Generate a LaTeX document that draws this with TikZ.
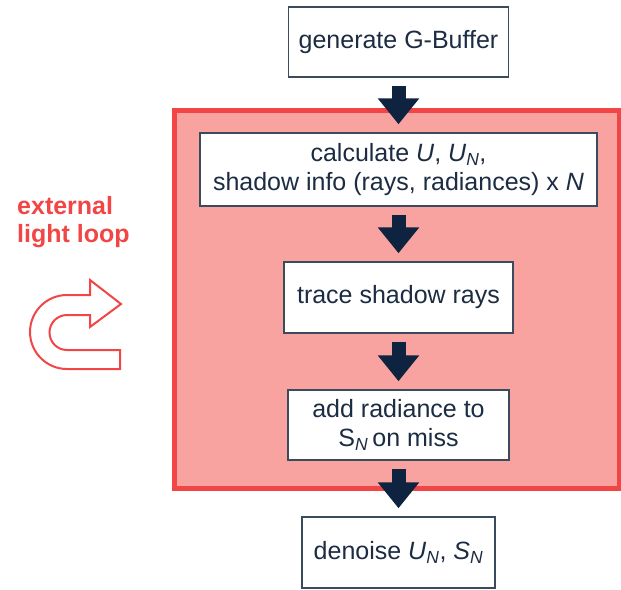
\documentclass[tikz,border=0pt]{standalone}
\usepackage{fontspec}
\setmainfont{Liberation Sans}
\usetikzlibrary{arrows.meta}
\definecolor{loopred}{HTML}{F24545}
\definecolor{loopfill}{HTML}{F9A3A1}
\definecolor{navy}{HTML}{0E2340}
\definecolor{boxline}{HTML}{3B4B5E}
\definecolor{txt}{HTML}{1C2C42}
\tikzset{
  x=1pt, y=1pt,
  stepbox/.style={draw=boxline, line width=1.5pt, fill=white, text=txt, inner sep=0pt,
    align=center, font=\fontsize{25}{29}\selectfont},
  frame/.style={draw=loopred, fill=loopfill, line width=5pt, inner sep=0pt},
  fat/.style={draw=navy, line width=14pt, shorten <=8pt, shorten >=8pt,
    -{Triangle[width=40pt, length=26pt]}},
  uturn/.style={draw=loopred, line width=2pt, fill=white, line join=miter},
}
\newcommand{\sub}[1]{\textsubscript{\textit{#1}}}
\begin{document}
\begin{tikzpicture}
\useasboundingbox (0,0) rectangle (621,-589);
\node[frame, minimum width=445pt, minimum height=377.5pt] (loop) at (396.5,-299.25) {};

\node[stepbox, minimum width=220pt, minimum height=70pt] (gbuf) at (398.5,-42) {generate G-Buffer};
\node[stepbox, minimum width=397pt, minimum height=73pt] (calc) at (398.5,-169.5)
  {calculate \textit{U}, \textit{U}\sub{N},\\shadow info (rays, radiances) x \textit{N}};
\node[stepbox, minimum width=229pt, minimum height=71pt] (trace) at (398.5,-297.5) {trace shadow rays};
\node[stepbox, minimum width=221pt, minimum height=70pt] (add) at (398.5,-425)
  {add radiance to\\S\sub{N}\,on miss};
\node[stepbox, minimum width=193pt, minimum height=71pt] (den) at (398.5,-552.5)
  {denoise \textit{U}\sub{N}, \textit{S}\sub{N}};

\draw[fat] (gbuf.south) -- (calc.north);
\draw[fat] (calc.south) -- (trace.north);
\draw[fat] (trace.south) -- (add.north);
\draw[fat] (add.south) -- (den.north);

\node[anchor=north west, align=left, text=loopred, inner sep=0pt,
  font=\fontsize{25}{28}\selectfont\bfseries] (label) at (17,-196) {external\\light loop};

\draw[uturn] (120,-369) -- (67,-369) arc[start angle=270, end angle=90, radius=37]
  -- (90,-295) -- (90,-280) -- (121,-304) -- (90,-327) -- (90,-315) -- (67,-315)
  arc[start angle=90, end angle=270, radius=17.5] -- (120,-350) -- cycle;
\end{tikzpicture}
\end{document}
